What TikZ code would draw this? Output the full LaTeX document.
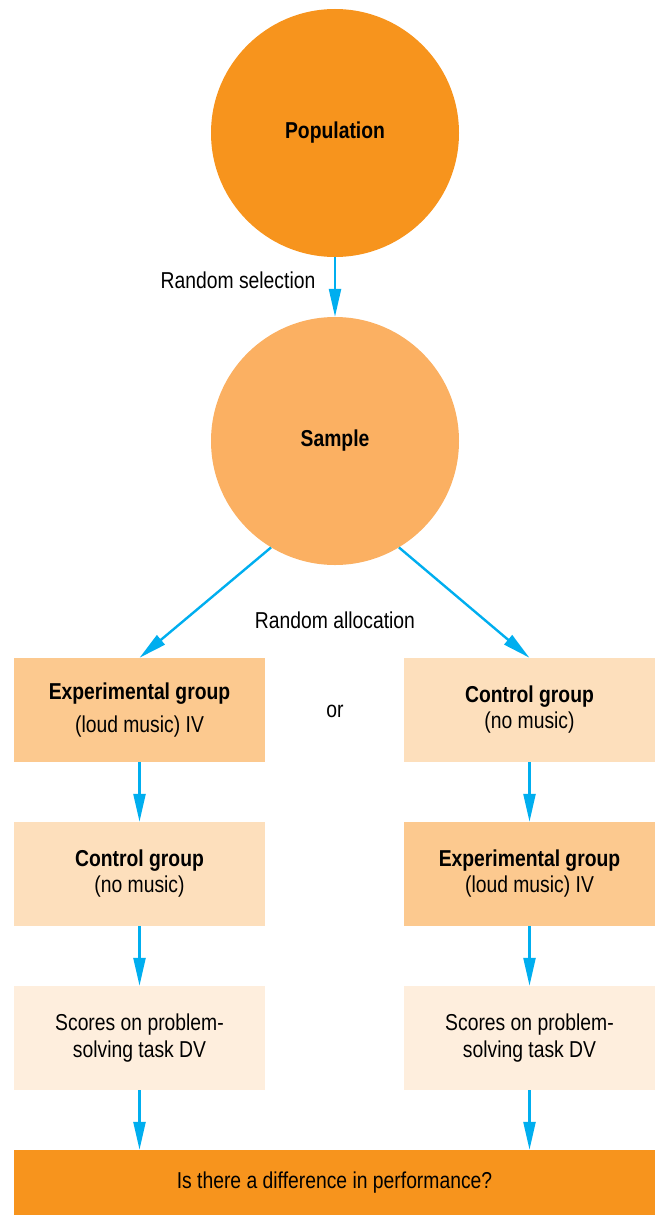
\documentclass[tikz,border=0pt]{standalone}
\usepackage{fontspec}
\setmainfont{Liberation Sans}[FakeStretch=0.84]
\usetikzlibrary{arrows.meta}
\definecolor{deeporange}{HTML}{F7941D}
\definecolor{midorange}{HTML}{FBB062}
\definecolor{expfill}{HTML}{FCC98F}
\definecolor{ctrlfill}{HTML}{FDDFBC}
\definecolor{scorefill}{HTML}{FEEEDD}
\definecolor{arrowblue}{HTML}{00AEEF}
\begin{document}
\begin{tikzpicture}[x=1pt,y=-1pt,
  every node/.style={font=\fontsize{23}{26}\selectfont, inner sep=0pt},
  bigcircle/.style={circle, minimum size=248pt},
  groupbox/.style={rectangle, minimum width=251pt, minimum height=104pt, align=center},
  link/.style={draw=arrowblue, line width=2.4pt, -{Triangle[length=28pt,width=12pt]}}
]
\useasboundingbox (0,0) rectangle (655,1215);

% sampling circles
\node[bigcircle, fill=deeporange] (pop) at (335,133) {\textbf{Population}};
\node[bigcircle, fill=midorange] (sam) at (335,441) {\textbf{Sample}};

% left branch
\node[groupbox, fill=expfill] (lexp) at (139.5,710) {\textbf{Experimental group}\\[7pt](loud music) IV};
\node[groupbox, fill=ctrlfill] (lctl) at (139.5,874) {\textbf{Control group}\\(no music)};
\node[groupbox, fill=scorefill] (lsc) at (139.5,1038) {Scores on problem-\\[1pt]solving task DV};

% right branch
\node[groupbox, fill=ctrlfill] (rctl) at (529.5,710) {\textbf{Control group}\\(no music)};
\node[groupbox, fill=expfill] (rexp) at (529.5,874) {\textbf{Experimental group}\\(loud music) IV};
\node[groupbox, fill=scorefill] (rsc) at (529.5,1038) {Scores on problem-\\[1pt]solving task DV};

% outcome bar
\node[rectangle, fill=deeporange, minimum width=641pt, minimum height=65pt] (diff) at (334.5,1182.5) {Is there a difference in performance?};

% labels
\node (sel) at (238,280) {Random selection};
\node (alloc) at (335,620) {Random allocation};
\node (or) at (335,711) {or};

% connectors
\draw[link] (pop.south) -- (sam.north);
\draw[link] (sam.239) -- (lexp.north);
\draw[link] (sam.301) -- (rctl.north);
\draw[link] (lexp.south) -- (lctl.north);
\draw[link] (lctl.south) -- (lsc.north);
\draw[link] (lsc.south) -- (lsc.south |- diff.north);
\draw[link] (rctl.south) -- (rexp.north);
\draw[link] (rexp.south) -- (rsc.north);
\draw[link] (rsc.south) -- (rsc.south |- diff.north);
\end{tikzpicture}
\end{document}
